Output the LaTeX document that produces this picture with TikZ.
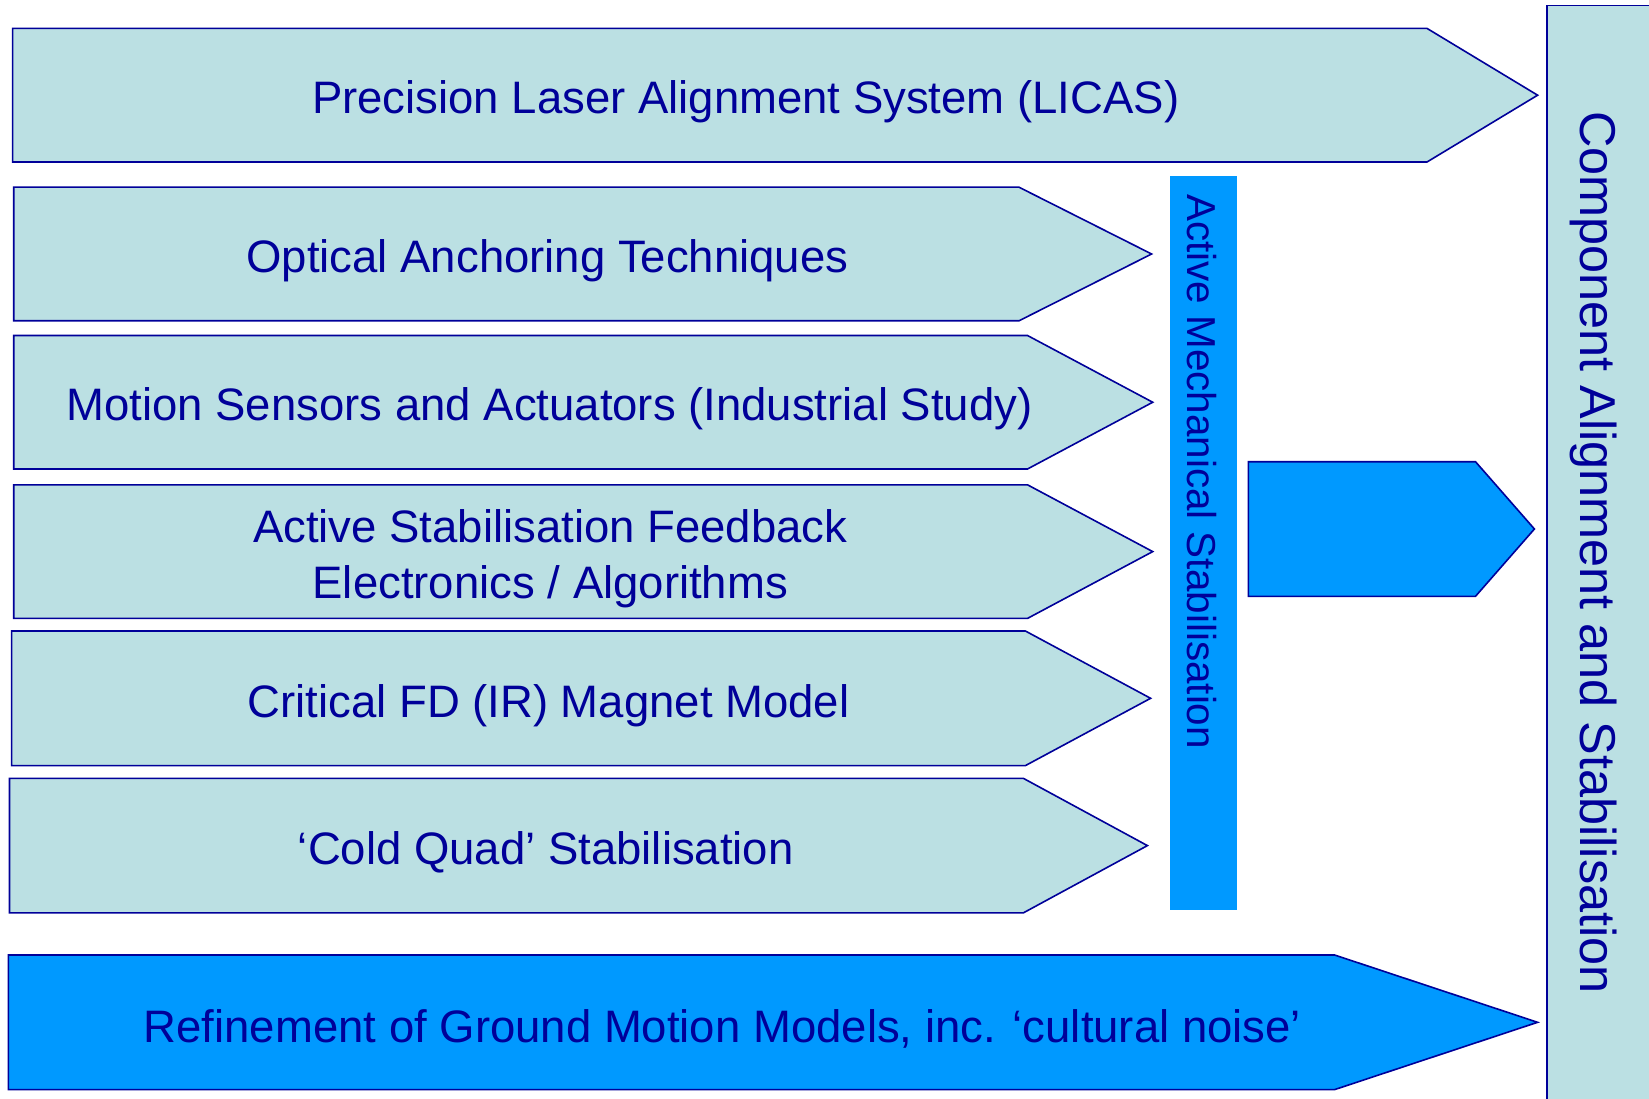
\documentclass[tikz,border=0pt]{standalone}
\usepackage{fontspec}
\setmainfont{Liberation Sans}
\definecolor{navy}{HTML}{000099}
\definecolor{pale}{HTML}{BBE0E3}
\definecolor{vivid}{HTML}{0099FF}
% pentagon pointer: style, left, top, bottom, shaft end, tip x
\newcommand{\pointer}[6]{%
  \draw[#1] (#2,#3) -- (#5,#3) -- (#6,{(#3+#4)/2}) -- (#5,#4) -- (#2,#4) -- cycle;}
\begin{document}
\begin{tikzpicture}[x=1pt,y=-1pt,
  panel/.style={draw=navy, line width=1.6pt, line join=miter, fill=pale},
  bright/.style={draw=navy, line width=1.6pt, line join=miter, fill=vivid},
  label/.style={text=navy, font=\fontsize{45.5}{55.7}\selectfont, align=center, inner sep=0pt},
  sidelabel/.style={text=navy, inner sep=0pt, rotate=-90}]
\useasboundingbox (0,0) rectangle (1649,1099);
\clip (0,0) rectangle (1649,1099);

% outer column on the right
\draw[panel] (1547,5.7) rectangle (1670,1120);

% work-package pointers
\pointer{panel}{12.6}{28.4}{162}{1427}{1537.6}
\pointer{panel}{13.7}{187.2}{320.8}{1019}{1151.6}
\pointer{panel}{13.7}{335.5}{469}{1027.5}{1152.7}
\pointer{panel}{13.7}{484.8}{618.4}{1027.5}{1152.7}
\pointer{panel}{11.6}{631}{765.6}{1025.4}{1150.6}
\pointer{panel}{9.5}{778.3}{912.9}{1023.3}{1147.4}
\pointer{bright}{8.4}{955}{1089.6}{1334.6}{1537.6}
\pointer{bright}{1248.4}{461.7}{596.3}{1475.5}{1534.4}

% active stabilisation bar
\fill[vivid] (1169.5,175.6) rectangle (1236.8,909.7);

\node[label] (licas)  at (745.7,102)   {Precision Laser Alignment System (LICAS)};
\node[label] (optic)  at (547.4,260.8) {Optical Anchoring Techniques};
\node[label] (motion) at (549.5,409.2) {Motion Sensors and Actuators (Industrial Study)};
\node[label] (feedb)  at (550.3,559)   {Active Stabilisation Feedback\\Electronics / Algorithms};
\node[label] (magnet) at (548.5,705.7) {Critical FD (IR) Magnet Model};
\node[label] (cquad)  at (545.8,851.9) {‘Cold Quad’ Stabilisation};
\node[label] (ground) at (722.5,1028.6) {Refinement of Ground Motion Models, inc. ‘cultural noise’};

\node[sidelabel, font=\fontsize{40.4}{48}\selectfont] (amstab) at (1202,471.7) {Active Mechanical Stabilisation};
\node[sidelabel, font=\fontsize{50.4}{60}\selectfont] (compal) at (1594,552.5) {Component Alignment and Stabilisation};
\end{tikzpicture}
\end{document}
